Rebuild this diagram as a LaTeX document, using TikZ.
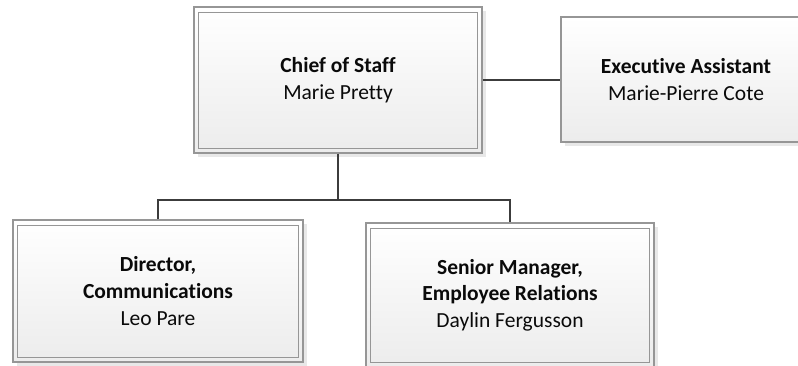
\documentclass[tikz,border=0pt]{standalone}
\usepackage{fontspec}
\setmainfont{Carlito}[Ligatures={NoCommon}]
\usetikzlibrary{shadows}
\definecolor{bordergray}{RGB}{150,150,150}
\definecolor{conngray}{RGB}{60,60,60}
\definecolor{fillbottom}{RGB}{236,236,236}
\definecolor{txt}{RGB}{10,10,10}
\tikzset{
  basebox/.style={draw=bordergray, line width=1.6pt, top color=white, bottom color=fillbottom,
    drop shadow={opacity=0.18, shadow xshift=4pt, shadow yshift=-4pt, fill=gray},
    inner sep=0pt, align=center, text=txt,
    font=\fontsize{21.5}{26.7}\selectfont},
  orgbox/.style={basebox,
    path picture={\draw[bordergray, line width=1.6pt]
      ([xshift=4.5pt,yshift=-5.5pt]path picture bounding box.north west) rectangle
      ([xshift=-4.5pt,yshift=4.5pt]path picture bounding box.south east);}},
  conn/.style={draw=conngray, line width=2.8pt}
}
\begin{document}
\begin{tikzpicture}[x=1pt,y=-1pt]
\path[use as bounding box, clip] (0,0) rectangle (798,365);
\fill[white] (0,0) rectangle (798,365);
\coordinate (bus) at (338,200);
\node[orgbox, minimum width=288pt, minimum height=146pt] (chief) at (338,80)
  {\textbf{Chief of Staff}\\Marie Pretty};
\node[basebox, minimum width=250pt, minimum height=125pt] (exec) at (686,79.5)
  {\textbf{Executive Assistant}\\Marie-Pierre Cote};
\node[orgbox, minimum width=290pt, minimum height=142pt] (dir) at (158,291)
  {\textbf{Director,}\\\textbf{Communications}\\Leo Pare};
\node[orgbox, minimum width=288pt, minimum height=144pt] (sen) at (510,295)
  {\textbf{Senior Manager,}\\\textbf{Employee Relations}\\Daylin Fergusson};
\draw[conn] (chief.south) -- (bus);
\draw[conn] (dir.north) |- (bus) -| (sen.north);
\draw[conn] (chief.east) -- (chief.east -| exec.west);
\end{tikzpicture}
\end{document}
